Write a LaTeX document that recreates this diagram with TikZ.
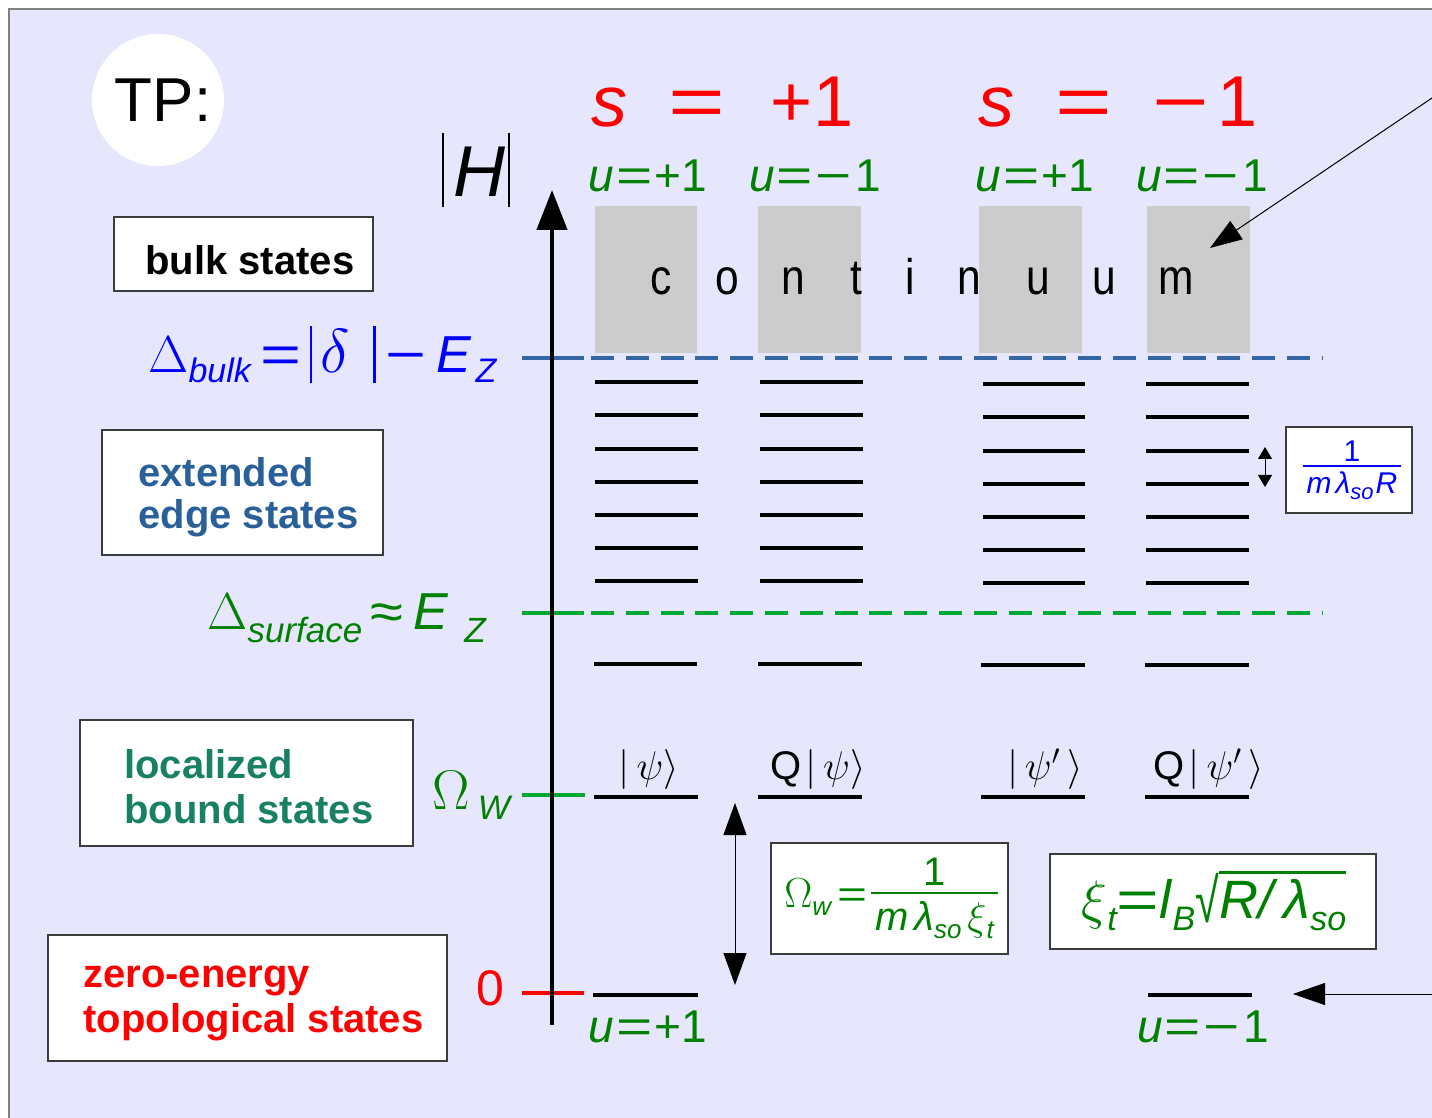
\RequirePackage{fix-cm}
\documentclass[tikz,border=0pt]{standalone}
\usepackage[no-math]{fontspec}
\setmainfont{Liberation Sans}
\usetikzlibrary{arrows.meta}
\definecolor{bgc}{RGB}{230,230,252}
\definecolor{framec}{RGB}{128,128,128}
\definecolor{boxc}{RGB}{60,60,60}
\definecolor{contc}{RGB}{204,204,204}
\definecolor{dblue}{RGB}{52,101,164}
\definecolor{dgreen}{RGB}{0,169,51}
\definecolor{tgreen}{RGB}{0,128,0}
\definecolor{tblue}{RGB}{0,0,255}
\definecolor{tred}{RGB}{255,0,0}
\definecolor{extc}{RGB}{42,96,153}
\definecolor{locc}{RGB}{24,128,100}
\newcommand\fs[1]{\fontsize{#1}{#1}\selectfont}
\newcommand\dnsub[2]{\raisebox{-#1}{#2}}
\newcommand\ovl[1]{\vbox{\hrule height 1.5pt\kern 3pt\hbox{#1}}}
\newcommand\weq{\scalebox{1.35}[1]{=}}
\newcommand\wmin{\scalebox{1.35}[1]{−}}
\newcommand\vbar[2]{\rule[-#1]{1.1pt}{#2}}
\newcommand\ffrac[4]{$\vcenter{\halign{\hfil\kern2pt##\kern2pt\hfil\cr #3\cr\noalign{\kern#2\hrule height #1\kern#2}#4\cr}}$}
\begin{document}
\begin{tikzpicture}[x=0.5pt,y=-0.5pt,
  every node/.style={inner sep=0pt},
  lbox/.style={draw=boxc, fill=white, line width=0.6pt},
  lvl/.style={line width=2pt, black},
  lbl/.style={anchor=base west, font=\fs{20pt}\bfseries},
  bluedash/.style={line width=2pt, dblue},
  greendash/.style={line width=2pt, dgreen},
  dpat/.style={dash pattern=on 11.5pt off 5.9pt},
  ulab/.style={anchor=base, text=tgreen, font=\fs{23pt}},
  slab/.style={anchor=base, text=tred, font=\fs{36pt}},
  psilab/.style={anchor=base, font=\fs{20pt}},
  thinarrow/.style={line width=0.5pt, -{Triangle[length=16pt,width=11pt]}},
  dblarrow/.style={line width=0.5pt, {Triangle[length=16pt,width=11.5pt]}-{Triangle[length=16pt,width=11.5pt]}},
  smallarrow/.style={line width=0.5pt, {Triangle[length=6pt,width=7pt]}-{Triangle[length=6pt,width=7pt]}}
]
\useasboundingbox (0,0) rectangle (1432,1118);
\fill[white] (0,0) rectangle (1432,1118);
\begin{scope}
  \clip (0,0) rectangle (1432,1118);
  \draw[draw=framec, fill=bgc, line width=0.8pt] (9,9) rectangle (1450,1130);
\end{scope}

% TP
\node[circle, fill=white, minimum size=66pt] (tpcirc) at (158,100) {};
\node[font=\fs{31pt}] (tp) at (163,100) {TP:};

% |H|
\node[anchor=base, text=black] (habs) at (476,197) {\vbar{5pt}{37pt}\kern5pt{\fs{36pt}\textit{H}}\kern1pt\vbar{5pt}{37pt}};

% continuum boxes
\fill[contc] (595,206) rectangle (697,353);
\fill[contc] (758,206) rectangle (861,353);
\fill[contc] (979,206) rectangle (1082,353);
\fill[contc] (1147,206) rectangle (1250,353);
\foreach \ch/\xx [count=\i] in {c/661,o/727,n/793,t/856,i/910,n/969,u/1038,u/1104,m/1176}
  \node[anchor=base, font=\fs{25pt}] (cont\i) at (\xx,295) {\scalebox{0.85}[1]{\ch}};

% s labels
\node[slab] (s1) at (609,127) {\textit{s}};
\node[slab] (eq1) at (697,127) {\weq};
\node[slab] (v1) at (812,127) {+1};
\node[slab] (s2) at (996,127) {\textit{s}};
\node[slab] (eq2) at (1084,127) {\weq};
\node[slab] (v2) at (1205,127) {\wmin\kern4pt 1};

% u labels
\node[ulab] (u1) at (648,192) {\textit{u}\kern1pt\weq\kern1pt+1};
\node[ulab] (u2) at (815,192) {\textit{u}\kern1pt\weq\kern1pt\wmin\kern2pt 1};
\node[ulab] (u3) at (1035,192) {\textit{u}\kern1pt\weq\kern1pt+1};
\node[ulab] (u4) at (1202,192) {\textit{u}\kern1pt\weq\kern1pt\wmin\kern2pt 1};
\node[ulab] (ub1) at (648,1042) {\textit{u}\kern1pt\weq\kern1pt+1};
\node[ulab] (ub4) at (1203,1042) {\textit{u}\kern1pt\weq\kern1pt\wmin\kern2pt 1};

% dashed lines
\draw[bluedash] (522,358) -- (584,358);
\draw[bluedash, dpat] (591,358) -- (1322,358);
\draw[greendash] (522,613) -- (584,613);
\draw[greendash, dpat] (591,613) -- (1322,613);

% ticks
\draw[line width=2pt, dgreen] (522,795) -- (585,795);
\draw[line width=2pt, tred] (522,993) -- (584,993);

% axis
\coordinate (axbot) at (552,1025);
\coordinate (axtop) at (552,190);
\draw[line width=2.2pt, -{Triangle[length=20pt,width=15pt]}] (axbot) -- (axtop);

% levels
\foreach \yy in {382,415,449,482,515,548,581} {
  \draw[lvl] (595,\yy) -- (698,\yy);
  \draw[lvl] (760,\yy) -- (863,\yy);
  \draw[lvl] (983,\yy+2) -- (1085,\yy+2);
  \draw[lvl] (1146,\yy+2) -- (1249,\yy+2);
}
\draw[lvl] (594,664) -- (697,664);
\draw[lvl] (758,664) -- (862,664);
\draw[lvl] (981,665) -- (1085,665);
\draw[lvl] (1145,665) -- (1249,665);
\draw[lvl] (594,797) -- (698,797);
\draw[lvl] (758,797) -- (862,797);
\draw[lvl] (981,797) -- (1085,797);
\draw[lvl] (1145,797) -- (1249,797);
\draw[lvl] (593,995) -- (698,995);
\draw[lvl] (1148,995) -- (1252,995);

% energy labels
\node[anchor=base west, text=tblue, font=\fs{26pt}] (dbulk) at (148,373)
  {$\Delta$\dnsub{5pt}{\fs{17pt}\itshape bulk}\kern5pt\weq\kern4pt\vbar{5pt}{28.5pt}\kern4pt{\fs{31pt}$\delta$}\kern12pt\vbar{5pt}{28.5pt}\kern5pt\wmin\kern5pt\textit{E}\kern2pt\dnsub{5pt}{\fs{17pt}\itshape Z}};
\node[anchor=base west, text=tgreen, font=\fs{26pt}] (dsurf) at (207,630)
  {$\Delta$\dnsub{6pt}{\fs{17.5pt}\itshape surface}\kern4pt\scalebox{1.15}[1]{≈}\kern5pt\textit{E}\kern8pt\dnsub{6pt}{\fs{17.5pt}\itshape Z}};
\node[anchor=base west, text=tgreen, font=\fs{28pt}] (omw) at (432,809)
  {$\Omega$\kern4pt\dnsub{5.5pt}{\fs{17pt}\itshape W}};
\node[anchor=base, text=tred, font=\fs{25pt}] (zero) at (490,1005) {0};

% state labels
\node[psilab] (psi1) at (649,779) {$|\,\psi\rangle$};
\node[psilab] (psi2) at (818,779) {Q\kern2pt$|\,\psi\rangle$};
\node[psilab] (psi3) at (1045,779) {$|\,\psi'\,\rangle$};
\node[psilab] (psi4) at (1209,779) {Q\kern2pt$|\,\psi'\,\rangle$};

% category boxes
\draw[lbox] (114,217) rectangle (373,291);
\node[lbl] (bulk) at (145,275) {bulk states};
\draw[lbox] (102,430) rectangle (383,555);
\node[lbl, text=extc] (ext1) at (138,487) {extended};
\node[lbl, text=extc] (ext2) at (138,529) {edge states};
\draw[lbox] (80,720) rectangle (413,846);
\node[lbl, text=locc] (loc1) at (124,778) {localized};
\node[lbl, text=locc] (loc2) at (124,823) {bound states};
\draw[lbox] (48,935) rectangle (447,1061);
\node[lbl, text=tred] (zer1) at (83,987) {zero-energy};
\node[lbl, text=tred] (zer2) at (83,1032) {topological states};

% formula boxes
\draw[lbox] (771,843) rectangle (1008,954);
\node[text=tgreen, font=\fs{19pt}] (omform) at (891,898)
  {{\fs{21pt}$\Omega$}\dnsub{4pt}{\fs{13pt}\itshape w}\kern3pt\weq\kern2pt\ffrac{1pt}{3.5pt}{\fs{20pt}1}{\fs{20pt}\itshape m\kern3pt λ\dnsub{4pt}{\fs{13pt}so}\kern3pt$\xi$\dnsub{4pt}{\fs{13pt}t}}};
\draw[lbox] (1050,854) rectangle (1376,949);
\node[text=tgreen, font=\fs{27pt}] (xiform) at (1214,901)
  {$\xi$\dnsub{6pt}{\fs{17pt}\itshape t}\weq\textit{l}\dnsub{6pt}{\fs{17pt}\itshape B}\raisebox{-2pt}{\scalebox{0.8}[1.15]{√}}\ovl{\textit{R/}\kern3pt{\itshape λ}\dnsub{6pt}{\fs{17pt}\itshape so}}};
\draw[lbox] (1286,427) rectangle (1412,513);
\node[text=tblue, font=\fs{15pt}] (lamform) at (1352,470)
  {\ffrac{1pt}{2pt}{1}{\itshape m\kern2pt λ\dnsub{3pt}{\fs{11pt}so}\kern1pt R}};

% arrows
\coordinate (cfree) at (1432,98);
\coordinate (ctip) at (1210,248);
\draw[thinarrow] (cfree) -- (ctip);
\coordinate (zfree) at (1432,994);
\coordinate (ztip) at (1293,994);
\draw[thinarrow] (zfree) -- (ztip);
\coordinate (gtop) at (735,803);
\coordinate (gbot) at (735,985);
\draw[dblarrow] (gtop) -- (gbot);
\coordinate (stop) at (1265,447);
\coordinate (sbot) at (1265,487);
\draw[smallarrow] (stop) -- (sbot);
\end{tikzpicture}
\end{document}
